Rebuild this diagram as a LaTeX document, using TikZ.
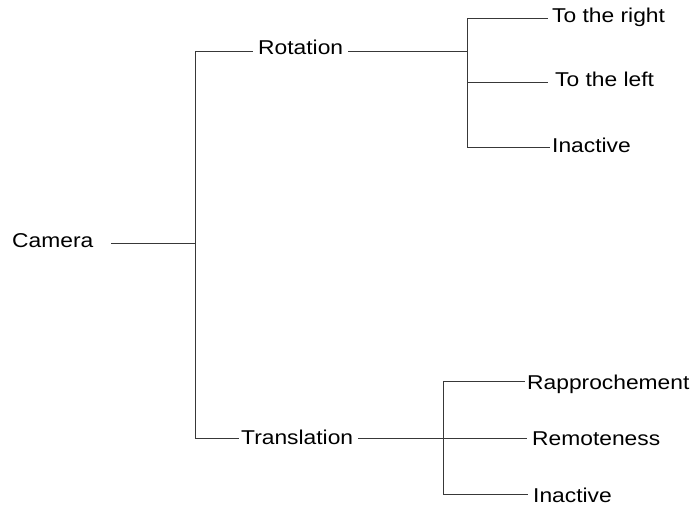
\documentclass[tikz,border=0pt]{standalone}
\usepackage{fontspec}
\setmainfont[FakeStretch=1.14]{Liberation Sans}
\begin{document}
\begin{tikzpicture}[x=1pt,y=-1pt,
  lbl/.style={anchor=base west, inner sep=0pt, font=\fontsize{20}{21}\selectfont},
  ln/.style={line width=1pt, draw=black!78}]
\useasboundingbox (0,0) rectangle (697,505);
\node[lbl] (cam) at (12,248) {Camera};
\node[lbl] (rot) at (258,55) {Rotation};
\node[lbl] (rr) at (552,23) {To the right};
\node[lbl] (rl) at (555,87) {To the left};
\node[lbl] (ri) at (552,153) {Inactive};
\node[lbl] (tr) at (241,445) {Translation};
\node[lbl] (ta) at (527,389) {Rapprochement};
\node[lbl] (tm) at (532,446) {Remoteness};
\node[lbl] (ti) at (533,502) {Inactive};
\coordinate (j0) at (195,244);
\coordinate (j0t) at (195,52);
\coordinate (j0b) at (195,438);
\coordinate (j1) at (467,52);
\coordinate (j1t) at (467,19);
\coordinate (j1m) at (467,83);
\coordinate (j1b) at (467,148);
\coordinate (j2) at (443,438);
\coordinate (j2t) at (443,382);
\coordinate (j2m) at (443,438);
\coordinate (j2b) at (443,494);
\draw[ln] ([xshift=18pt]cam.east |- j0) -- (j0);
\draw[ln] (j0t) -- (j0b);
\draw[ln] (j0t) -- ([xshift=-5pt]rot.west |- j0t);
\draw[ln] ([xshift=5pt]rot.east |- j1) -- (j1);
\draw[ln] (j1t) -- (j1b);
\draw[ln] (j1t) -- ([xshift=-4pt]rr.west |- j1t);
\draw[ln] (j1m) -- ([xshift=-7pt]rl.west |- j1m);
\draw[ln] (j1b) -- ([xshift=-2pt]ri.west |- j1b);
\draw[ln] (j0b) -- ([xshift=-2pt]tr.west |- j0b);
\draw[ln] ([xshift=5pt]tr.east |- j2) -- (j2);
\draw[ln] (j2t) -- (j2b);
\draw[ln] (j2t) -- ([xshift=-2pt]ta.west |- j2t);
\draw[ln] (j2m) -- ([xshift=-5pt]tm.west |- j2m);
\draw[ln] (j2b) -- ([xshift=-5pt]ti.west |- j2b);
\end{tikzpicture}
\end{document}
